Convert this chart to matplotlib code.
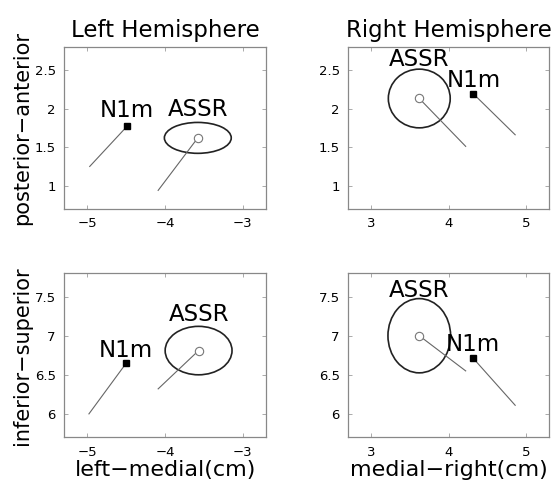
import matplotlib.pyplot as plt
from matplotlib.patches import Ellipse

plt.rcParams['font.family'] = ['DejaVu Sans']

# panels: top-left, top-right, bottom-left, bottom-right
panel_names = ['TL', 'TR', 'BL', 'BR']
n1m_x = [-4.49, 4.32, -4.50, 4.31]
n1m_y = [1.77, 2.19, 6.65, 6.72]
n1m_end_x = [-4.97, 4.86, -4.98, 4.86]
n1m_end_y = [1.25, 1.66, 6.00, 6.11]
assr_x = [-3.58, 3.62, -3.57, 3.62]
assr_y = [1.62, 2.13, 6.81, 7.00]
assr_rx = [0.43, 0.40, 0.43, 0.405]
assr_ry = [0.20, 0.38, 0.31, 0.475]
assr_end_x = [-4.09, 4.22, -4.09, 4.22]
assr_end_y = [0.94, 1.51, 6.32, 6.55]
n1m_lbl_y = [1.97, 2.36, 6.81, 6.89]
assr_lbl_y = [1.99, 2.63, 7.27, 7.58]

xlims = [(-5.3, -2.7), (2.7, 5.3), (-5.3, -2.7), (2.7, 5.3)]
ylims = [(0.7, 2.8), (0.7, 2.8), (5.7, 7.8), (5.7, 7.8)]
xticks = [[-5, -4, -3], [3, 4, 5], [-5, -4, -3], [3, 4, 5]]
yticks = [[1, 1.5, 2, 2.5], [1, 1.5, 2, 2.5], [6, 6.5, 7, 7.5], [6, 6.5, 7, 7.5]]
positions = [
    [0.115, 0.571, 0.363, 0.333],
    [0.625, 0.571, 0.361, 0.333],
    [0.115, 0.102, 0.363, 0.337],
    [0.625, 0.102, 0.361, 0.337],
]

fig = plt.figure(figsize=(5.57, 4.87), dpi=100)
for i in range(4):
    ax = fig.add_axes(positions[i])
    ax.plot([n1m_x[i], n1m_end_x[i]], [n1m_y[i], n1m_end_y[i]], color='#666666', lw=0.8)
    ax.plot([assr_x[i], assr_end_x[i]], [assr_y[i], assr_end_y[i]], color='#666666', lw=0.8)
    ax.add_patch(Ellipse((assr_x[i], assr_y[i]), 2 * assr_rx[i], 2 * assr_ry[i],
                         fill=False, ec='#222222', lw=1.2))
    ax.plot(assr_x[i], assr_y[i], 'o', mfc='white', mec='#777777', ms=6, mew=0.8)
    ax.plot(n1m_x[i], n1m_y[i], 's', color='black', ms=5)
    ax.text(n1m_x[i], n1m_lbl_y[i], 'N1m', fontsize=16.5, ha='center', va='center')
    ax.text(assr_x[i], assr_lbl_y[i], 'ASSR', fontsize=16.5, ha='center', va='center')
    ax.set_xlim(xlims[i])
    ax.set_ylim(ylims[i])
    ax.set_xticks(xticks[i])
    ax.set_yticks(yticks[i])
    ax.set_yticklabels([('%g' % v) for v in yticks[i]])
    ax.tick_params(direction='in', top=True, right=True, length=3, width=0.5,
                   color='#888888', labelsize=9.5, pad=6)
    for s in ax.spines.values():
        s.set_color('#888888')
        s.set_linewidth(0.9)

fig.axes[0].set_title('Left Hemisphere', fontsize=16.5, pad=7)
fig.axes[1].set_title('Right Hemisphere', fontsize=16.5, pad=7)
fig.axes[0].set_ylabel('posterior−anterior', fontsize=15, labelpad=2)
fig.axes[2].set_ylabel('inferior−superior', fontsize=15, labelpad=2)
fig.axes[2].set_xlabel('left−medial(cm)', fontsize=16, labelpad=1)
fig.axes[3].set_xlabel('medial−right(cm)', fontsize=16, labelpad=1)

fig.savefig('out.png', dpi=100)
